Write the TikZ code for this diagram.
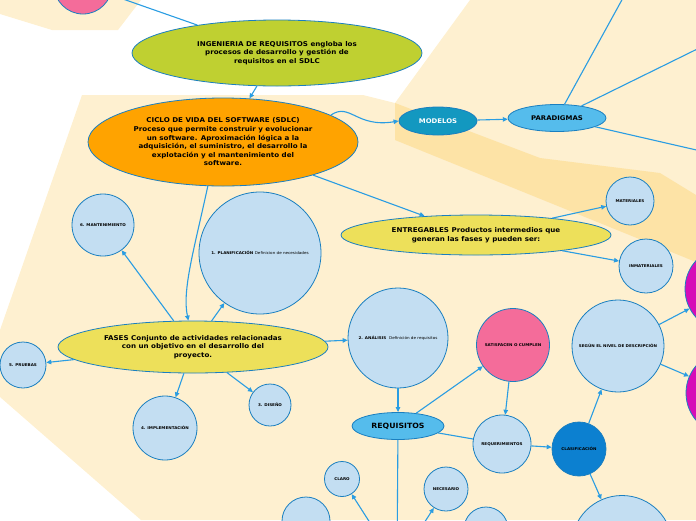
\documentclass[tikz,border=0pt]{standalone}
\usepackage{fontspec}
\setmainfont[FakeStretch=1.08]{DejaVu Sans}
\usetikzlibrary{arrows.meta,shapes.geometric}
\definecolor{bgA}{HTML}{FEF0D0}
\definecolor{bgB}{HTML}{FDE3A6}
\definecolor{bordc}{HTML}{1A7FC0}
\definecolor{connc}{HTML}{2A9DE2}
\definecolor{lgreen}{HTML}{BFD031}
\definecolor{orng}{HTML}{FFA300}
\definecolor{ylw}{HTML}{EDE05A}
\definecolor{lblue}{HTML}{C3DEF2}
\definecolor{mblue}{HTML}{55BCEC}
\definecolor{teal}{HTML}{1398C0}
\definecolor{pnk}{HTML}{F46C9A}
\definecolor{dblue}{HTML}{0C80D0}
\definecolor{mgnt}{HTML}{D60CB8}
\newcommand\mainf{\fontsize{6.6}{8.6}\selectfont\bfseries}
\newcommand\tinyf{\fontsize{3.8}{4.6}\selectfont\bfseries}
\newcommand\midf{\fontsize{6.4}{8}\selectfont\bfseries}
\begin{document}
\begin{tikzpicture}[x=1pt,y=-1pt,
  bord/.style={draw=bordc, line width=0.8pt},
  ell/.style={ellipse, bord, inner sep=0pt, align=center, font=\mainf},
  circ/.style={circle, bord, fill=lblue, inner sep=0pt, align=center, font=\tinyf},
  conn/.style={draw=connc, line width=1.1pt},
  arr/.style={conn, -{Triangle[length=5pt,width=4.5pt]}}]
\useasboundingbox (0,0) rectangle (696,520);
% background
\fill[bgA] (0,0) -- (141,0) -- (118,30) -- (52,30) -- (0,14) -- cycle;
\fill[bgA] (82,95) -- (363,95) -- (395,103) -- (540,158) -- (660,173) -- (696,195) -- (696,520) -- (141,520) -- (0,397) -- (0,330) -- cycle;
\fill[bgA] (470,0) -- (696,0) -- (696,262) -- (395,140) -- (395,103) -- cycle;
\fill[bgB] (395,103) -- (540,158) -- (660,173) -- (696,195) -- (696,262) -- (395,140) -- cycle;
% nodes
\node[circle, bord, fill=pnk, minimum size=58pt, inner sep=0pt] (pink) at (83,-15) {};
\node[ell, fill=lgreen, minimum width=290pt, minimum height=66pt] (ing) at (277,53)
  {INGENIERIA DE REQUISITOS engloba los\\procesos de desarrollo y gestión de\\requisitos en el SDLC};
\node[ell, fill=orng, minimum width=270pt, minimum height=88pt] (sdlc) at (223,142)
  {CICLO DE VIDA DEL SOFTWARE (SDLC)\\Proceso que permite construir y evolucionar\\un software. Aproximación lógica a la\\adquisición, el suministro, el desarrollo la\\explotación y el mantenimiento del\\software.};
\node[ell, fill=teal, text=white, font=\midf, minimum width=78pt, minimum height=28pt] (mod) at (438,121) {MODELOS};
\node[ell, fill=mblue, font=\midf, minimum width=98pt, minimum height=27pt] (par) at (557,118) {PARADIGMAS};
\node[ell, fill=ylw, minimum width=270pt, minimum height=40pt] (ent) at (476,235)
  {ENTREGABLES Productos intermedios que\\generan las fases y pueden ser:};
\node[circ, minimum size=48pt] (mat) at (630,201) {MATERIALES};
\node[circ, minimum size=54pt] (inm) at (646,266) {INMATERIALES};
\node[ell, fill=ylw, minimum width=270pt, minimum height=52pt] (fas) at (193,347)
  {FASES Conjunto de actividades relacionadas\\con un objetivo en el desarrollo del\\proyecto.};
\node[circ, minimum size=122pt] (pla) at (260,253) {1. PLANIFICACIÓN \mdseries Definicion de necesidades};
\node[circ, minimum size=62pt] (man) at (103,225) {6. MANTENIMIENTO};
\node[circ, minimum size=46pt] (pru) at (23,365) {5. PRUEBAS};
\node[circ, minimum size=64pt] (imp) at (165,428) {4. IMPLEMENTACIÓN};
\node[circ, minimum size=42pt] (dis) at (270,405) {3. DISEÑO};
\node[circ, minimum size=100pt] (ana) at (398,338) {2. ANÁLISIS \ \mdseries Definición de requisitos};
\node[ell, fill=mblue, font=\fontsize{7.2}{8}\selectfont\bfseries, minimum width=92pt, minimum height=27pt] (req) at (398,426) {REQUISITOS};
\node[circ, fill=pnk, minimum size=73pt] (sat) at (513,345) {SATISFACEN O CUMPLEN};
\node[circ, minimum size=58pt] (rqm) at (502,444) {REQUERIMIENTOS};
\node[circ, fill=dblue, minimum size=54pt] (cla) at (579,449) {CLASIFICACIÓN};
\node[circ, minimum size=92pt] (seg) at (618,346) {SEGÚN EL NIVEL DE DESCRIPCIÓN};
\node[circle, bord, fill=mgnt, minimum size=84pt, inner sep=0pt] (mg1) at (727,289) {};
\node[circle, bord, fill=mgnt, minimum size=84pt, inner sep=0pt] (mg2) at (728,393) {};
\node[circ, minimum size=101pt] (bot) at (622,546) {};
\node[circ, minimum size=35pt] (clr) at (342,479) {CLARO};
\node[circ, minimum size=44pt] (nec) at (446,489) {NECESARIO};
\node[circ, minimum size=48pt] (b1) at (306,521) {};
\node[circ, minimum size=44pt] (b2) at (486,529) {};
\coordinate (hid) at (397,565);
\coordinate (p1) at (640,-33);
\coordinate (p2) at (740,28);
\coordinate (p3) at (740,160);
% connectors
\draw[conn] (ing) -- (pink);
\draw[arr] (ing) -- (sdlc);
\draw[arr] (sdlc.14) .. controls (350,102) and (356,128) .. (mod.west);
\draw[arr] (mod) -- (par);
\draw[conn] (par) -- (p1);
\draw[conn] (par) -- (p2);
\draw[conn] (par) -- (p3);
\draw[arr] (sdlc) -- (ent);
\draw[arr] (ent) -- (mat);
\draw[arr] (ent) -- (inm);
\draw[arr] (sdlc.251) .. controls (194,250) and (182,290) .. (fas.100);
\draw[arr] (fas) -- (pla);
\draw[arr] (fas) -- (man);
\draw[arr] (fas) -- (pru);
\draw[arr] (fas) -- (imp);
\draw[arr] (fas) -- (dis);
\draw[arr] (fas) -- (ana);
\draw[arr] (ana) -- (req);
\draw[arr] (req) -- (sat);
\draw[arr] (sat) -- (rqm);
\draw[conn] (req) -- (rqm);
\draw[arr] (rqm) -- (cla);
\draw[arr] (cla) -- (seg);
\draw[arr] (cla) -- (bot);
\draw[arr] (seg) -- (mg1);
\draw[arr] (seg) -- (mg2);
\draw[conn] (req) -- (hid);
\draw[arr] (hid) -- (clr);
\draw[arr] (hid) -- (nec);
\end{tikzpicture}
\end{document}
